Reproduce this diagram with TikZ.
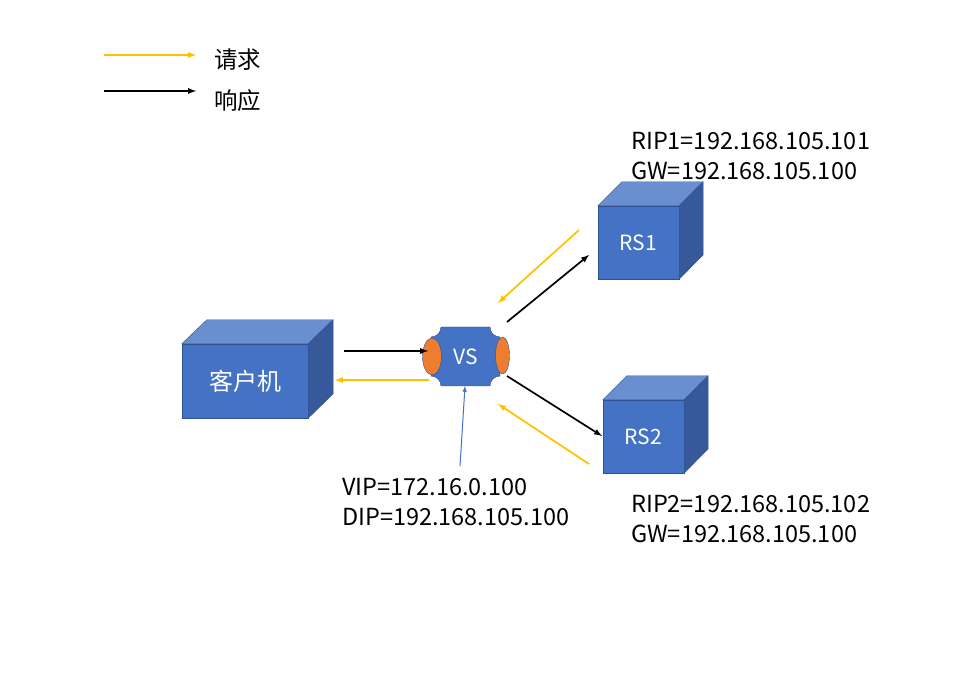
\documentclass[tikz,border=0pt]{standalone}
\usepackage{fontspec}
\setmainfont{Noto Sans CJK SC}
\usepackage{tikz}
\usetikzlibrary{arrows,calc,shapes.geometric}
\definecolor{boxfront}{HTML}{4472C4}
\definecolor{boxtop}{HTML}{6A8FD1}
\definecolor{boxside}{HTML}{37599B}
\definecolor{boxline}{HTML}{2F528F}
\definecolor{reqcol}{HTML}{FFC000}
\definecolor{nic}{HTML}{ED7D31}
\begin{document}
\begin{tikzpicture}[x=1pt,y=-1pt]
\tikzstyle{front}=[rectangle,draw=boxline,fill=boxfront,text=white,inner sep=0pt,font=\fontsize{24}{24}\selectfont]
\tikzstyle{top}=[draw=boxline,fill=boxtop]
\tikzstyle{side}=[draw=boxline,fill=boxside]
\tikzstyle{req}=[->,>=latex,line width=1.7pt,draw=reqcol]
\tikzstyle{resp}=[->,>=latex,line width=1.7pt,draw=black]
\tikzstyle{info}=[inner sep=0pt,anchor=west,align=left,font=\fontsize{23.5}{30}\selectfont]
\useasboundingbox (0,0) rectangle (954,676);

% Legend
\coordinate (L1a) at (104,55);
\coordinate (L1b) at (196,55);
\coordinate (L2a) at (104,91);
\coordinate (L2b) at (196,91);
\draw[req] (L1a) -- (L1b);
\draw[resp] (L2a) -- (L2b);
\node (Lreq) [info,font=\fontsize{23.5}{23.5}\selectfont] at (214,60) {请求};
\node (Lresp) [info,font=\fontsize{23.5}{23.5}\selectfont] at (214,101) {响应};

% Client and real servers
\node (CL) [front,minimum width=126pt,minimum height=74pt] at (245,381) {客户机};
\filldraw[top] (CL.north west) -- ++(25,-24) -- ++(126,0) -- (CL.north east) -- cycle;
\filldraw[side] (CL.north east) -- ++(25,-24) -- ++(0,74) -- (CL.south east) -- cycle;

\node (RS1) [front,minimum width=81pt,minimum height=73pt,font=\fontsize{21}{21}\selectfont] at (638.5,242.5) {RS1};
\filldraw[top] (RS1.north west) -- ++(24,-24) -- ++(81,0) -- (RS1.north east) -- cycle;
\filldraw[side] (RS1.north east) -- ++(24,-24) -- ++(0,73) -- (RS1.south east) -- cycle;

\node (RS2) [front,minimum width=81pt,minimum height=73pt,font=\fontsize{21}{21}\selectfont] at (643.5,436.5) {RS2};
\filldraw[top] (RS2.north west) -- ++(24,-24) -- ++(81,0) -- (RS2.north east) -- cycle;
\filldraw[side] (RS2.north east) -- ++(24,-24) -- ++(0,73) -- (RS2.south east) -- cycle;

% Director
\filldraw[draw=boxline,fill=boxfront] (441,327) -- (490,327)
  .. controls (490,332.5) and (494.5,337) .. (500,337) -- (500,376)
  .. controls (494.5,376) and (490,380.5) .. (490,386) -- (441,386)
  .. controls (441,380.5) and (436.5,376) .. (431,376) -- (431,337)
  .. controls (436.5,337) and (441,332.5) .. (441,327) -- cycle;
\node (VS) [inner sep=0pt,text=white,font=\fontsize{21}{21}\selectfont] at (466,357) {VS};
\node (eth0) [ellipse,draw=boxline,fill=nic,minimum width=19pt,minimum height=37pt,inner sep=0pt] at (432,356.5) {};
\node (eth1) [ellipse,draw=boxline,fill=nic,minimum width=14pt,minimum height=37pt,inner sep=0pt] at (502.5,355.5) {};

% Addresses
\node (ip1) [info] at (631,156) {RIP1=192.168.105.101\\GW=192.168.105.100};
\node (ip2) [info] at (631,519) {RIP2=192.168.105.102\\GW=192.168.105.100};
\node (ipvs) [info] at (342,502) {VIP=172.16.0.100\\DIP=192.168.105.100};

% Traffic
\coordinate (a1) at (344,351);
\coordinate (b1) at (428,351);
\coordinate (a2) at (429,380);
\coordinate (b2) at (335,380);
\coordinate (a3) at (507,322);
\coordinate (b3) at (589,255);
\coordinate (a4) at (579,230);
\coordinate (b4) at (498,303);
\coordinate (a5) at (507,376);
\coordinate (b5) at (602,436);
\coordinate (a6) at (589,464);
\coordinate (b6) at (498,404);
\coordinate (a7) at (460,466);
\coordinate (b7) at (465,386);
\draw[resp] (a1) -- (b1);
\draw[req] (a2) -- (b2);
\draw[resp] (a3) -- (b3);
\draw[req] (a4) -- (b4);
\draw[resp] (a5) -- (b5);
\draw[req] (a6) -- (b6);
\draw[->,>=latex,draw=boxfront,line width=1pt] (a7) -- (b7);

\end{tikzpicture}
\end{document}
